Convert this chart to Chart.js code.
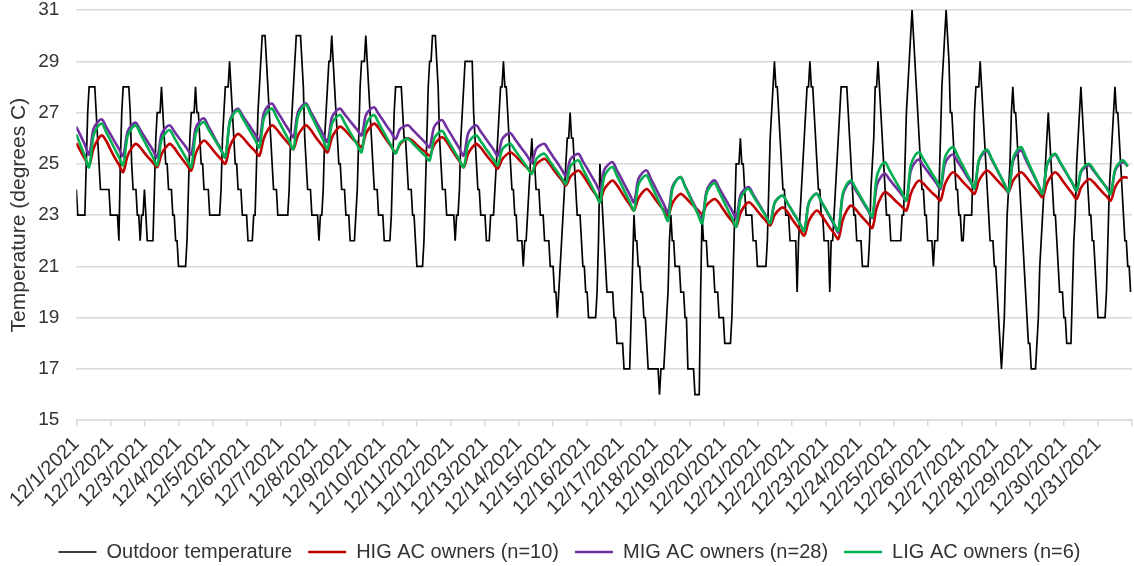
<!DOCTYPE html>
<html>
<head>
<meta charset="utf-8">
<script src="https://cdn.jsdelivr.net/npm/chart.js@4.4.1/dist/chart.umd.min.js"></script>
<style>
  html, body { margin: 0; padding: 0; background: #fff; }
  #wrap { width: 1134px; height: 566px; }
</style>
</head>
<body>
<div id="wrap"><canvas id="chart" width="1134" height="566"></canvas></div>
<script>
// day labels for the category axis (one per day)
const dayLabels = [
  '12/1/2021', '12/2/2021', '12/3/2021', '12/4/2021', '12/5/2021', '12/6/2021', '12/7/2021', '12/8/2021',
  '12/9/2021', '12/10/2021', '12/11/2021', '12/12/2021', '12/13/2021', '12/14/2021', '12/15/2021', '12/16/2021',
  '12/17/2021', '12/18/2021', '12/19/2021', '12/20/2021', '12/21/2021', '12/22/2021', '12/23/2021', '12/24/2021',
  '12/25/2021', '12/26/2021', '12/27/2021', '12/28/2021', '12/29/2021', '12/30/2021', '12/31/2021'
];

// outdoor temperature, hourly (24 values per day)
const outdoor = [
  24,23,23,23,23,23,23,25,27,28,28,28,28,28,27,26,25,24,24,24,24,24,24,24,
  23,23,23,23,23,23,22,25,27,28,28,28,28,28,27,25,24,24,24,23,23,22,23,23,
  24,23,22,22,22,22,22,24,26,27,27,27,28,27,26,25,25,24,24,24,23,23,22,22,
  21,21,21,21,21,21,22,24,26,27,27,27,28,27,27,26,25,25,24,24,24,24,23,23,
  23,23,23,23,23,23,24,26,27,28,28,28,29,28,27,26,25,25,24,24,24,23,23,23,
  23,22,22,22,22,23,23,25,27,28,29,30,30,30,29,28,27,26,25,24,24,24,23,23,
  23,23,23,23,23,23,24,26,27,28,29,30,30,30,30,29,28,26,25,24,24,24,23,23,
  23,23,23,22,23,23,24,26,27,28,29,29,30,29,28,27,26,25,25,24,24,24,23,23,
  23,22,22,22,22,23,24,26,28,29,29,29,30,29,28,27,26,25,24,24,24,23,23,23,
  23,22,22,22,22,22,23,25,27,28,28,28,28,28,27,26,26,25,24,24,24,23,23,22,
  21,21,21,21,21,22,24,26,28,29,29,30,30,30,29,28,26,25,24,24,24,23,23,23,
  23,23,23,22,23,23,24,26,27,28,29,29,29,29,29,29,27,26,25,24,24,23,23,23,
  23,22,22,22,23,23,23,24,25,26,27,28,28,29,28,28,27,26,25,24,24,23,23,22,
  22,22,22,21,22,22,23,24,25,26,25,25,24,24,24,23,23,23,22,22,22,22,21,21,
  21,20,20,19,20,21,22,23,24,25,26,26,27,26,26,25,24,23,23,23,22,21,21,20,
  20,19,19,19,19,19,19,20,22,25,24,23,22,21,20,20,20,20,20,19,19,18,18,18,
  18,18,17,17,17,17,17,19,21,23,22,22,21,21,20,20,19,19,18,17,17,17,17,17,
  17,17,17,16,17,17,17,18,19,20,22,23,22,22,21,21,21,21,20,20,20,19,19,17,
  17,17,17,17,16,16,16,16,20,23,22,22,22,21,21,21,21,21,20,20,20,19,19,19,
  19,18,18,18,18,18,19,21,23,25,25,25,26,25,25,24,23,23,23,23,23,22,22,22,
  21,21,21,21,21,21,21,22,24,26,27,28,29,28,28,27,26,25,24,24,23,23,23,22,
  22,22,22,22,20,22,23,24,25,26,27,28,28,29,28,28,27,26,25,24,24,23,23,22,
  22,22,22,20,22,22,23,24,25,26,27,28,28,28,28,28,27,26,25,24,23,23,22,22,
  22,22,21,21,21,21,21,22,24,25,26,28,28,29,28,27,26,25,24,23,23,23,22,22,
  22,22,22,22,22,22,23,23,25,27,28,29,30,31,30,29,28,27,26,25,24,24,23,23,
  22,22,22,22,21,22,22,22,24,26,28,29,30,31,30,29,27,27,26,25,24,24,23,23,
  22,22,23,23,23,23,23,23,25,27,28,28,28,29,28,27,26,25,24,23,22,22,22,21,
  21,20,19,18,17,18,19,21,23,24,25,27,28,27,27,26,25,24,23,22,21,20,19,18,
  18,17,17,17,17,18,19,21,22,23,24,25,26,27,26,25,24,23,23,22,21,20,20,20,
  19,19,18,18,18,18,20,22,23,25,26,27,28,27,26,25,25,24,23,23,22,22,21,20,
  19,19,19,19,19,19,20,22,24,25,26,27,28,27,27,26,25,24,23,22,22,21,21,20
];

// indoor averages, every 3 hours (hours 0,3,6,...,21 of each day)
const hig = [
  25.81,25.50,25.20,24.94,25.58,25.93,26.11,25.90,
  25.57,25.25,24.97,24.68,25.29,25.62,25.78,25.64,
  25.43,25.23,25.05,24.87,25.37,25.64,25.78,25.62,
  25.38,25.16,24.95,24.74,25.38,25.73,25.91,25.77,
  25.56,25.36,25.18,25.00,25.64,25.99,26.17,26.04,
  25.85,25.66,25.49,25.32,25.97,26.32,26.50,26.36,
  26.15,25.95,25.76,25.58,26.09,26.36,26.50,26.34,
  26.10,25.87,25.66,25.45,26.00,26.30,26.45,26.33,
  26.15,25.97,25.81,25.65,26.16,26.43,26.57,26.40,
  26.14,25.90,25.67,25.45,25.75,25.92,26.00,25.90,
  25.74,25.59,25.46,25.32,25.72,25.93,26.04,25.86,
  25.60,25.34,25.10,24.87,25.37,25.64,25.78,25.63,
  25.41,25.20,25.00,24.81,25.16,25.35,25.45,25.33,
  25.16,24.99,24.83,24.68,24.97,25.12,25.20,25.04,
  24.80,24.58,24.37,24.16,24.48,24.65,24.74,24.56,
  24.30,24.04,23.80,23.57,24.00,24.23,24.35,24.17,
  23.91,23.65,23.41,23.18,23.64,23.89,24.02,23.86,
  23.62,23.40,23.19,22.98,23.45,23.70,23.83,23.71,
  23.53,23.36,23.20,23.05,23.37,23.54,23.63,23.47,
  23.22,22.98,22.77,22.55,23.07,23.36,23.50,23.37,
  23.16,22.96,22.78,22.60,22.99,23.20,23.30,23.14,
  22.88,22.64,22.42,22.20,22.74,23.03,23.18,23.01,
  22.76,22.51,22.29,22.07,22.79,23.18,23.37,23.24,
  23.04,22.85,22.67,22.50,23.27,23.69,23.90,23.79,
  23.63,23.47,23.32,23.18,23.82,24.17,24.35,24.23,
  24.05,23.88,23.73,23.57,24.18,24.51,24.67,24.54,
  24.35,24.17,24.00,23.83,24.33,24.60,24.74,24.61,
  24.42,24.24,24.07,23.90,24.32,24.55,24.67,24.52,
  24.30,24.09,23.89,23.70,24.23,24.52,24.67,24.51,
  24.27,24.05,23.84,23.63,24.06,24.29,24.41,24.28,
  24.09,23.91,23.74,23.57,24.07,24.34,24.48,24.45
];
const mig = [
  26.44,26.10,25.75,25.36,26.35,26.63,26.73,26.44,
  26.16,25.87,25.59,25.30,26.24,26.51,26.60,26.33,
  26.06,25.80,25.53,25.26,26.15,26.41,26.50,26.27,
  26.04,25.82,25.59,25.36,26.38,26.67,26.77,26.47,
  26.17,25.86,25.56,25.26,26.62,27.02,27.15,26.90,
  26.65,26.41,26.16,25.91,26.95,27.25,27.35,27.09,
  26.83,26.56,26.30,26.04,26.98,27.26,27.35,27.05,
  26.75,26.45,26.15,25.85,26.79,27.06,27.15,26.94,
  26.73,26.53,26.32,26.11,26.89,27.12,27.20,26.95,
  26.71,26.46,26.22,25.97,26.35,26.46,26.50,26.33,
  26.16,25.99,25.82,25.65,26.41,26.63,26.70,26.42,
  26.15,25.87,25.60,25.32,26.17,26.42,26.50,26.26,
  26.03,25.79,25.56,25.32,25.95,26.14,26.20,25.97,
  25.74,25.52,25.29,25.06,25.58,25.73,25.78,25.53,
  25.28,25.04,24.79,24.54,25.15,25.33,25.39,25.10,
  24.82,24.53,24.25,23.96,24.75,24.98,25.06,24.75,
  24.44,24.12,23.81,23.50,24.39,24.65,24.74,24.41,
  24.08,23.76,23.43,23.10,24.09,24.38,24.48,24.14,
  23.80,23.46,23.12,22.78,23.91,24.24,24.35,24.06,
  23.77,23.48,23.19,22.90,23.76,24.01,24.09,23.81,
  23.53,23.26,22.98,22.70,23.46,23.69,23.76,23.49,
  23.21,22.94,22.66,22.39,23.43,23.73,23.83,23.53,
  23.23,22.93,22.63,22.33,23.73,24.14,24.28,24.00,
  23.73,23.45,23.18,22.90,24.13,24.49,24.61,24.40,
  24.19,23.99,23.78,23.57,24.71,25.05,25.16,24.93,
  24.70,24.48,24.25,24.02,24.98,25.27,25.36,25.10,
  24.84,24.57,24.31,24.05,25.09,25.40,25.50,25.18,
  24.86,24.54,24.22,23.90,25.07,25.41,25.52,25.18,
  24.84,24.51,24.17,23.83,24.93,25.25,25.36,25.08,
  24.80,24.52,24.24,23.96,24.67,24.87,24.94,24.72,
  24.51,24.29,24.08,23.86,24.72,24.98,25.06,24.90
];
const lig = [
  26.15,25.72,25.30,24.87,26.09,26.45,26.57,26.24,
  25.92,25.59,25.27,24.94,26.06,26.39,26.50,26.19,
  25.88,25.56,25.25,24.94,25.93,26.21,26.31,26.02,
  25.73,25.45,25.16,24.87,26.14,26.51,26.63,26.36,
  26.08,25.81,25.53,25.26,26.58,26.96,27.09,26.80,
  26.51,26.23,25.94,25.65,26.73,27.05,27.15,26.84,
  26.52,26.21,25.89,25.58,26.82,27.18,27.30,26.96,
  26.61,26.27,25.92,25.58,26.53,26.81,26.90,26.61,
  26.32,26.03,25.74,25.45,26.49,26.80,26.90,26.60,
  26.30,26.00,25.70,25.40,25.81,25.93,25.97,25.80,
  25.63,25.47,25.30,25.13,25.96,26.20,26.28,26.00,
  25.72,25.43,25.15,24.87,25.76,26.02,26.11,25.88,
  25.64,25.41,25.17,24.94,25.54,25.72,25.78,25.55,
  25.31,25.08,24.84,24.61,25.17,25.34,25.39,25.16,
  24.92,24.69,24.45,24.22,24.88,25.07,25.13,24.80,
  24.48,24.15,23.83,23.50,24.49,24.77,24.87,24.53,
  24.20,23.86,23.52,23.18,24.17,24.45,24.55,24.20,
  23.84,23.49,23.13,22.78,24.00,24.36,24.48,24.12,
  23.76,23.40,23.04,22.68,23.81,24.14,24.25,23.91,
  23.57,23.23,22.89,22.55,23.61,23.92,24.02,23.75,
  23.48,23.22,22.95,22.68,23.46,23.68,23.76,23.49,
  23.21,22.94,22.66,22.39,23.43,23.73,23.83,23.54,
  23.25,22.97,22.68,22.39,23.80,24.21,24.35,24.07,
  23.79,23.50,23.22,22.94,24.47,24.91,25.06,24.76,
  24.46,24.17,23.87,23.57,24.92,25.32,25.45,25.18,
  24.91,24.63,24.36,24.09,25.21,25.54,25.65,25.33,
  25.01,24.69,24.37,24.05,25.13,25.45,25.55,25.22,
  24.89,24.56,24.23,23.90,25.16,25.53,25.65,25.29,
  24.92,24.56,24.19,23.83,24.95,25.28,25.39,25.10,
  24.82,24.53,24.25,23.96,24.71,24.93,25.00,24.77,
  24.53,24.30,24.06,23.83,24.77,25.04,25.13,24.90
];

const HOURS_PER_DAY = 24;
const INDOOR_STEP = 3; // hours between indoor samples
const TOTAL_HOURS = dayLabels.length * HOURS_PER_DAY;

const textColor = '#333333';
const gridColor = '#d9d9d9';
const fontFamily = '"Liberation Sans", Arial, sans-serif';

// x value = hour index since 12/1 00:00
function toPoints(values, step) {
  return values.map((v, i) => ({ x: i * step, y: v }));
}

const ctx = document.getElementById('chart').getContext('2d');

new Chart(ctx, {
  type: 'line',
  data: {
    datasets: [
      {
        label: 'Outdoor temperature',
        data: toPoints(outdoor, 1),
        borderColor: '#000000',
        backgroundColor: '#000000',
        borderWidth: 1.7,
        tension: 0,
        order: 4
      },
      {
        label: 'HIG AC owners (n=10)',
        data: toPoints(hig, INDOOR_STEP),
        borderColor: '#c00000',
        backgroundColor: '#c00000',
        borderWidth: 2.6,
        tension: 0.3,
        order: 3
      },
      {
        label: 'MIG AC owners (n=28)',
        data: toPoints(mig, INDOOR_STEP),
        borderColor: '#7030a0',
        backgroundColor: '#7030a0',
        borderWidth: 2.6,
        tension: 0.3,
        order: 2
      },
      {
        label: 'LIG AC owners (n=6)',
        data: toPoints(lig, INDOOR_STEP),
        borderColor: '#00b050',
        backgroundColor: '#00b050',
        borderWidth: 2.6,
        tension: 0.3,
        order: 1
      }
    ]
  },
  options: {
    responsive: false,
    animation: false,
    devicePixelRatio: 1,
    layout: {
      padding: { left: 7, right: 2, top: 10, bottom: -6 }
    },
    elements: {
      point: { radius: 0, hoverRadius: 0 },
      line: { fill: false }
    },
    plugins: {
      tooltip: { enabled: false },
      legend: {
        position: 'bottom',
        labels: {
          usePointStyle: true,
          pointStyle: 'line',
          pointStyleWidth: 38,
          color: textColor,
          padding: 16,
          font: { family: fontFamily, size: 20 },
          sort: (a, b) => a.datasetIndex - b.datasetIndex
        }
      }
    },
    scales: {
      x: {
        type: 'linear',
        min: 0,
        max: TOTAL_HOURS,
        border: { display: true, color: gridColor, width: 1.5 },
        grid: {
          drawOnChartArea: false,
          drawTicks: true,
          tickLength: 6,
          color: gridColor,
          lineWidth: 1.5
        },
        ticks: {
          stepSize: HOURS_PER_DAY,
          autoSkip: false,
          minRotation: 45,
          maxRotation: 45,
          padding: 6,
          color: textColor,
          font: { family: fontFamily, size: 20 },
          callback: (value) => dayLabels[value / HOURS_PER_DAY] || ''
        },
        // rotated labels may overhang; keep the plot edges where the axis puts them
        afterFit: (scale) => {
          scale.paddingLeft = 0;
          scale.paddingRight = 0;
        }
      },
      y: {
        min: 15,
        max: 31,
        border: { display: false },
        grid: {
          color: gridColor,
          lineWidth: 1.5,
          drawTicks: true,
          tickLength: 14,
          tickColor: 'rgba(0,0,0,0)'
        },
        ticks: {
          stepSize: 2,
          padding: 3,
          color: textColor,
          font: { family: fontFamily, size: 19 }
        },
        title: {
          display: true,
          text: 'Temperature (degrees C)',
          color: textColor,
          font: { family: fontFamily, size: 21 },
          padding: { top: 0, bottom: 3 }
        },
        afterFit: (scale) => {
          scale.paddingTop = 0;
          scale.paddingBottom = 0;
        }
      }
    }
  }
});
</script>
</body>
</html>
